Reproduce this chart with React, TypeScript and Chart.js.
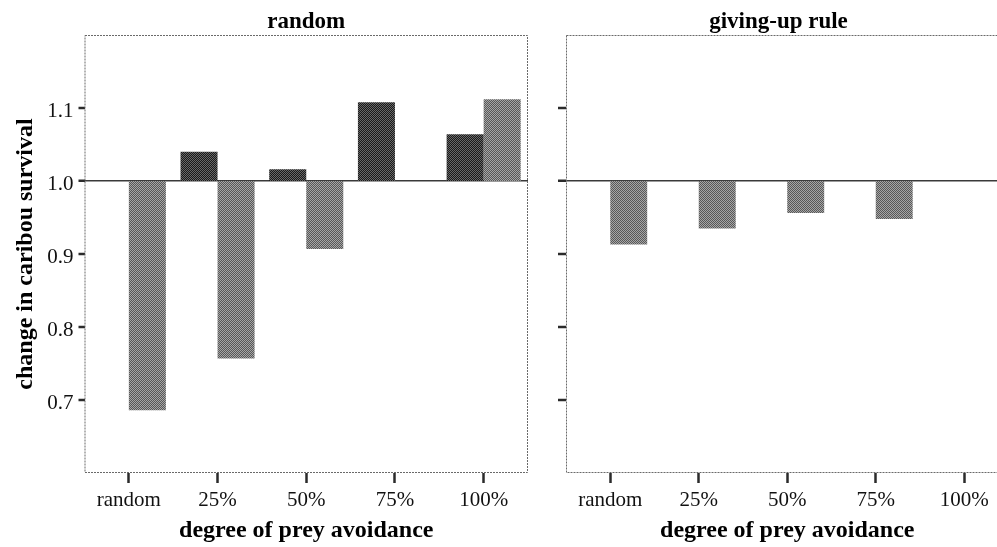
import React, { useEffect, useRef } from 'react';
import { Chart, registerables } from 'chart.js';

Chart.register(...registerables);

// Categories and values
const avoidanceLevels = ['random', '25%', '50%', '75%', '100%'];
const yTickValues = [0.7, 0.8, 0.9, 1.0, 1.1];
const baseline = 1.0;

// "random" search panel
const randomDarkSeries: (number | null)[] = [null, 1.04, 1.016, 1.108, 1.064];
const randomLightSeries: (number | null)[] = [0.686, 0.757, 0.907, null, 1.112];

// "giving-up rule" panel
const givingUpDarkSeries: (number | null)[] = [null, null, null, null, null];
const givingUpLightSeries: (number | null)[] = [0.913, 0.935, 0.956, 0.948, null];

const SERIF = '"Liberation Serif", "Times New Roman", serif';

// Halftone-like fill made from a 2x2 checkerboard
function dither(a: string, b: string): CanvasPattern | string {
  const c = document.createElement('canvas');
  c.width = 2;
  c.height = 2;
  const g = c.getContext('2d');
  if (!g) return a;
  g.fillStyle = a;
  g.fillRect(0, 0, 2, 2);
  g.fillStyle = b;
  g.fillRect(0, 0, 1, 1);
  g.fillRect(1, 1, 1, 1);
  return g.createPattern(c, 'repeat') ?? a;
}

// Dotted frame around the plotting area
const framePlugin = {
  id: 'panelFrame',
  afterDatasetsDraw(chart: any) {
    const { ctx, chartArea } = chart;
    const { left, top, right, bottom } = chartArea;
    ctx.save();
    ctx.strokeStyle = '#6a6a6a';
    ctx.lineWidth = 1;
    ctx.setLineDash([2, 1]);
    ctx.strokeRect(left + 0.5, top + 0.5, right - left - 1, bottom - top - 1);
    ctx.restore();
  },
};

type PanelProps = {
  title: string;
  dark: (number | null)[];
  light: (number | null)[];
  canvasLeft: number;
  canvasWidth: number;
  padLeft: number;
  padRight: number;
  yAxisWidth: number;
  showYLabels: boolean;
  titleFullSize: boolean;
};

const toFloating = (series: (number | null)[]) =>
  series.map((v) => (v == null ? null : [baseline, v]));

function Panel(props: PanelProps) {
  const ref = useRef<HTMLCanvasElement | null>(null);

  useEffect(() => {
    if (!ref.current) return;
    const darkFill = dither('#1a1a1a', '#686868');
    const lightFill = dither('#585858', '#a6a6a6');

    const chart = new Chart(ref.current, {
      type: 'bar',
      data: {
        labels: avoidanceLevels,
        datasets: [
          {
            label: 'dark',
            data: toFloating(props.dark) as any,
            backgroundColor: darkFill as any,
            borderWidth: 0,
            categoryPercentage: 0.835,
            barPercentage: 1,
          },
          {
            label: 'light',
            data: toFloating(props.light) as any,
            backgroundColor: lightFill as any,
            borderWidth: 0,
            categoryPercentage: 0.835,
            barPercentage: 1,
          },
        ],
      },
      options: {
        responsive: false,
        animation: false,
        devicePixelRatio: 1,
        layout: {
          padding: { left: props.padLeft, right: props.padRight, top: 0, bottom: 0 },
        },
        plugins: {
          legend: { display: false },
          tooltip: { enabled: false },
          title: {
            display: true,
            text: props.title,
            fullSize: props.titleFullSize,
            color: '#000',
            font: { family: SERIF, size: 23, weight: 'bold', lineHeight: 1 },
            padding: { top: 10.7, bottom: 1.3 },
          },
        },
        scales: {
          x: {
            type: 'category',
            offset: true,
            border: { display: false },
            grid: {
              offset: false,
              drawOnChartArea: false,
              drawTicks: true,
              tickLength: 10,
              tickWidth: 2.5,
              tickColor: '#2b2b2b',
            },
            ticks: {
              color: '#111',
              font: { family: SERIF, size: 21 },
              padding: 5,
              maxRotation: 0,
              autoSkip: false,
            },
            title: {
              display: true,
              text: 'degree of prey avoidance',
              color: '#000',
              font: { family: SERIF, size: 24, weight: 'bold' },
              padding: { top: 0, bottom: 2 },
            },
            afterFit: (s: any) => {
              s.height = 74;
            },
          },
          y: {
            type: 'linear',
            min: 0.6,
            max: 1.2,
            border: { display: false },
            afterBuildTicks: (s: any) => {
              s.ticks = yTickValues.map((v) => ({ value: v }));
            },
            grid: {
              drawOnChartArea: true,
              drawTicks: true,
              color: (c: any) =>
                c.tick && c.tick.value === baseline ? '#3a3a3a' : 'rgba(0,0,0,0)',
              lineWidth: (c: any) => (c.tick && c.tick.value === baseline ? 1.5 : 0),
              tickColor: '#2b2b2b',
              tickLength: props.showYLabels ? 6 : 8,
              tickWidth: 2.5,
            },
            ticks: {
              display: props.showYLabels,
              color: '#111',
              font: { family: SERIF, size: 21 },
              padding: 5,
              labelOffset: 3,
              callback: (v: any) => Number(v).toFixed(1),
            },
            title: {
              display: props.showYLabels,
              text: 'change in caribou survival',
              color: '#000',
              font: { family: SERIF, size: 24, weight: 'bold' },
              padding: { top: 11, bottom: 0 },
            },
            afterFit: (s: any) => {
              s.width = props.yAxisWidth;
            },
          },
        },
      } as any,
      plugins: [framePlugin],
    });

    return () => chart.destroy();
  }, []);

  return (
    <canvas
      ref={ref}
      width={props.canvasWidth}
      height={547}
      style={{
        position: 'absolute',
        left: props.canvasLeft,
        top: 0,
        width: props.canvasWidth,
        height: 547,
      }}
    />
  );
}

export default function App() {
  return (
    <div
      style={{
        position: 'fixed',
        left: 0,
        top: 0,
        width: 997,
        height: 547,
        overflow: 'hidden',
        background: '#fff',
      }}
    >
      <Panel
        title="random"
        dark={randomDarkSeries}
        light={randomLightSeries}
        canvasLeft={0}
        canvasWidth={545}
        padLeft={0}
        padRight={17}
        yAxisWidth={84.5}
        showYLabels={true}
        titleFullSize={false}
      />
      <Panel
        title="giving-up rule"
        dark={givingUpDarkSeries}
        light={givingUpLightSeries}
        canvasLeft={545}
        canvasWidth={485}
        padLeft={3.5}
        padRight={21.5}
        yAxisWidth={17.5}
        showYLabels={false}
        titleFullSize={true}
      />
    </div>
  );
}
